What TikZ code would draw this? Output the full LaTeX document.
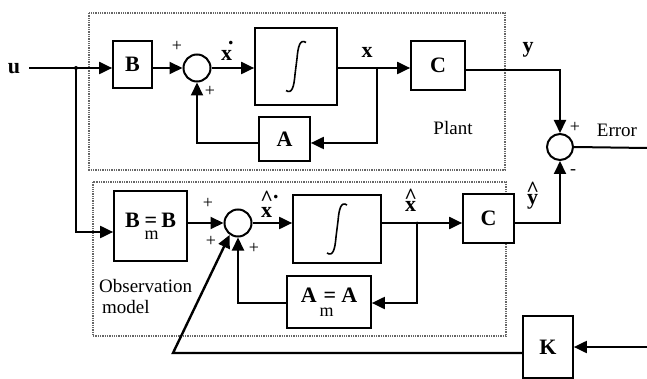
\documentclass[tikz,border=0pt]{standalone}
\usepackage{fontspec}
\setmainfont{Liberation Serif}
\usetikzlibrary{arrows.meta}
\newcommand\hatover[2]{\setbox0\hbox{#2}\rlap{\hbox to \wd0{\hss\raisebox{#1}{\textasciicircum}\hss}}#2}
\newcommand\drawinteg[1]{%
  \draw[line width=1.6pt] ([shift={(-10,24)}]#1) .. controls ([shift={(-4,28)}]#1) and ([shift={(-2,20)}]#1) .. ([shift={(-1,8)}]#1)
    -- ([shift={(1,-8)}]#1) .. controls ([shift={(2,-20)}]#1) and ([shift={(4,-28)}]#1) .. ([shift={(10,-24)}]#1);}
\begin{document}
\begin{tikzpicture}[x=1pt,y=-1pt,
  box/.style={draw, line width=1.7pt, fill=white, inner sep=0pt, font=\fontsize{22}{24}\selectfont\bfseries},
  sumnode/.style={draw, circle, line width=2pt, minimum size=27pt, inner sep=0pt, fill=white},
  conn/.style={line width=2pt},
  arr/.style={conn, -{Triangle[length=13pt,width=12pt]}},
  dotbox/.style={draw=black!60, densely dotted, line width=1.3pt},
  lbl/.style={font=\fontsize{22}{24}\selectfont\bfseries, inner sep=0pt},
  txt/.style={font=\fontsize{19}{21}\selectfont, inner sep=0pt},
  sgn/.style={font=\fontsize{18}{20}\selectfont, inner sep=0pt},
  jdot/.style={circle, fill, inner sep=0pt, minimum size=4pt}
]
\useasboundingbox (0,0) rectangle (647,379);
% dotted frames
\draw[dotbox] (89,13) rectangle (505,170);
\draw[dotbox] (93,182) rectangle (506,336);
% plant nodes
\node[box, minimum width=39pt, minimum height=47pt] (B) at (132.5,64.5) {B};
\node[sumnode] (s1) at (197,68) {};
\node[box, minimum width=82pt, minimum height=77pt] (I1) at (296,66.5) {};
\node[box, minimum width=51pt, minimum height=44pt] (A) at (284.5,139) {A};
\node[box, minimum width=54pt, minimum height=49pt] (C1) at (438,65.5) {C};
\node[sumnode, minimum size=26pt] (s3) at (560,147) {};
% observer nodes
\node[box, minimum width=73pt, minimum height=70pt] (Bm) at (150.5,226)
  {B\kern5pt\rlap{\raisebox{-12pt}{\mdseries\fontsize{18}{20}\selectfont m}}=\kern4pt B};
\node[sumnode] (s2) at (238,223) {};
\node[box, minimum width=88pt, minimum height=68pt] (I2) at (337,229) {};
\node[box, minimum width=84pt, minimum height=52pt] (Am) at (329,302)
  {A\kern3pt\rlap{\raisebox{-14pt}{\mdseries\fontsize{18}{20}\selectfont m}}\kern4pt=\kern5pt A};
\node[box, minimum width=51pt, minimum height=49pt] (C2) at (488.5,218.5) {C};
\node[box, minimum width=50pt, minimum height=62pt] (K) at (548,347) {K};
% integrals
\drawinteg{I1.center}
\drawinteg{I2.center}
% plant connectors
\coordinate (uin) at (29,68);
\coordinate (j1) at (76,68);
\draw[conn] (uin) -- (j1);
\draw[arr] (j1) -- (j1 -| B.west);
\node[jdot] (j1d) at (j1) {};
\draw[arr] (s1 -| B.east) -- (s1.west);
\draw[arr] (s1.east) -- (s1 -| I1.west);
\coordinate (j2) at (377,68);
\draw[conn] (s1 -| I1.east) -- (j2);
\draw[arr] (j2) -- (j2 -| C1.west);
\coordinate (fb1) at (377,143);
\draw[arr] (j2) -- (fb1) -- (fb1 -| A.east);
\draw[arr] (fb1 -| A.west) -| (s1.south);
\coordinate (yc) at (560,70);
\draw[arr] (yc -| C1.east) -- (yc) -- (s3.north);
\coordinate (eend) at (647,148);
\draw[conn] (s3.east) -- (eend);
% observer connectors
\coordinate (bmrow) at (76,232);
\draw[arr] (j1) -- (bmrow) -- (bmrow -| Bm.west);
\draw[arr] (s2 -| Bm.east) -- (s2.west);
\draw[arr] (s2.east) -- (s2 -| I2.west);
\coordinate (j3) at (417,223);
\draw[conn] (s2 -| I2.east) -- (j3);
\draw[arr] (j3) -- (j3 -| C2.west);
\node[jdot, minimum size=3pt] (j3d) at (j3) {};
\coordinate (fb2) at (417,303);
\draw[arr] (j3) -- (fb2) -- (fb2 -| Am.east);
\draw[arr] (fb2 -| Am.west) -| (s2.south);
\draw[arr] (s2 -| C2.east) -| (s3.south);
\coordinate (kin) at (647,347);
\draw[arr] (kin) -- (K.east);
\coordinate (kc) at (173,353);
\draw[arr, line width=2.4pt] (kc -| K.west) -- (kc) -- (s2.235);
% labels
\node[lbl] (ulbl) at (14,69) {u};
\node[sgn] (p1) at (177,46) {+};
\node[sgn] (p2) at (210,91) {+};
\node[lbl, anchor=base west] (xd) at (221,61) {x\kern-4pt\raisebox{16pt}{.}};
\node[lbl] (xl) at (367,52) {x};
\node[lbl] (yl) at (528,50) {y};
\node[sgn] (p6) at (575,127) {+};
\node[sgn] (m6) at (573,172) {-};
\node[txt] (plant) at (453,128) {Plant};
\node[txt] (err) at (617,130) {Error};
\node[sgn] (p3) at (208,203) {+};
\node[sgn] (p4) at (211,241) {+};
\node[sgn] (p5) at (254,248) {+};
\node[lbl, anchor=base west] (xhd) at (261,218) {\hatover{12pt}{x}\kern1pt\raisebox{19pt}{.}};
\node[lbl, anchor=base west] (xh) at (405,212) {\hatover{9pt}{x}};
\node[lbl, anchor=base west] (yh) at (527,205) {\hatover{8pt}{y}};
\node[txt, anchor=base west] (obs1) at (99,292) {Observation};
\node[txt, anchor=base west] (obs2) at (102,313) {model};
\end{tikzpicture}
\end{document}
